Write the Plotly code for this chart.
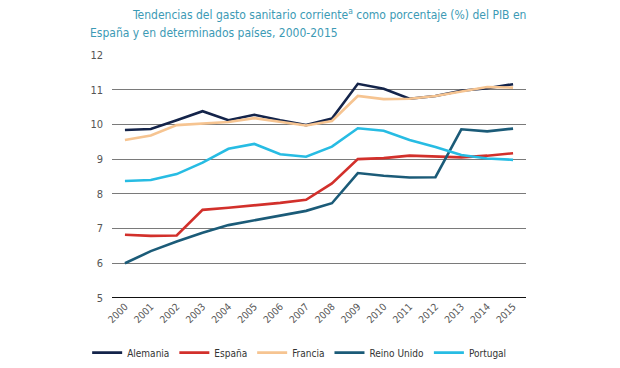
import plotly.graph_objects as go

years = [str(y) for y in range(2000, 2016)]
alemania = [9.84, 9.87, 10.12, 10.38, 10.12, 10.28, 10.12, 9.98, 10.17, 11.17, 11.03, 10.74, 10.82, 10.97, 11.04, 11.16]
espana = [6.82, 6.79, 6.80, 7.54, 7.60, 7.66, 7.74, 7.83, 8.30, 9.00, 9.03, 9.10, 9.08, 9.05, 9.10, 9.17]
francia = [9.55, 9.68, 9.98, 10.03, 10.07, 10.18, 10.08, 9.97, 10.10, 10.82, 10.73, 10.74, 10.82, 10.96, 11.08, 11.06]
reino_unido = [6.00, 6.35, 6.63, 6.88, 7.10, 7.24, 7.38, 7.51, 7.73, 8.60, 8.52, 8.47, 8.48, 9.86, 9.80, 9.88]
portugal = [8.37, 8.40, 8.57, 8.90, 9.30, 9.44, 9.14, 9.07, 9.36, 9.89, 9.82, 9.55, 9.35, 9.12, 9.02, 8.98]

series = [
    ("Alemania", alemania, "#14244a"),
    ("España", espana, "#d2302b"),
    ("Francia", francia, "#f6c491"),
    ("Reino Unido", reino_unido, "#1b5b78"),
    ("Portugal", portugal, "#27bce3"),
]

FONT = "DejaVu Sans Condensed, Liberation Sans Narrow, Roboto, Arial, sans-serif"
TITLE1 = "Tendencias del gasto sanitario corriente<sup>a</sup> como porcentaje (%) del PIB en"
TITLE2 = "España y en determinados países, 2000-2015"

fig = go.Figure()
for name, vals, col in series:
    fig.add_trace(go.Scatter(x=years, y=vals, name=name, mode="lines",
                             line=dict(color=col, width=2.6)))

fig.update_layout(
    width=612, height=360,
    margin=dict(l=104, r=94, t=47, b=70, autoexpand=False),
    paper_bgcolor="white", plot_bgcolor="white",
    font=dict(family=FONT, color="#555555", size=12),
    xaxis=dict(type="category", range=[-0.5, 15.5], showgrid=False, ticks="",
               tickangle=-45, tickfont=dict(size=10, color="#555555"), showline=False,
               automargin=False),
    yaxis=dict(range=[5, 12], dtick=1, showgrid=True, gridcolor="#7a7a7a", gridwidth=1.2,
               zeroline=False, ticks="", tickfont=dict(size=11, color="#555555"),
               ticklabelstandoff=8, automargin=False),
    legend=dict(orientation="h", x=-0.06, xanchor="left", y=-0.165, yanchor="top",
                font=dict(size=10, color="#333333"), itemwidth=30, tracegroupgap=0),
    showlegend=True,
)
fig.add_annotation(text=TITLE1, xref="paper", yref="paper", x=0.0435, y=1.168,
                   xanchor="left", yanchor="middle", showarrow=False,
                   font=dict(family=FONT, size=12, color="#3c9ab5"))
fig.add_annotation(text=TITLE2, xref="paper", yref="paper", x=-0.058, y=1.09,
                   xanchor="left", yanchor="middle", showarrow=False,
                   font=dict(family=FONT, size=12, color="#3c9ab5"))
fig.add_shape(type="line", xref="paper", yref="y", x0=0, x1=1, y0=5, y1=5,
              line=dict(color="#111111", width=2.2))

fig.write_html("out.html")
